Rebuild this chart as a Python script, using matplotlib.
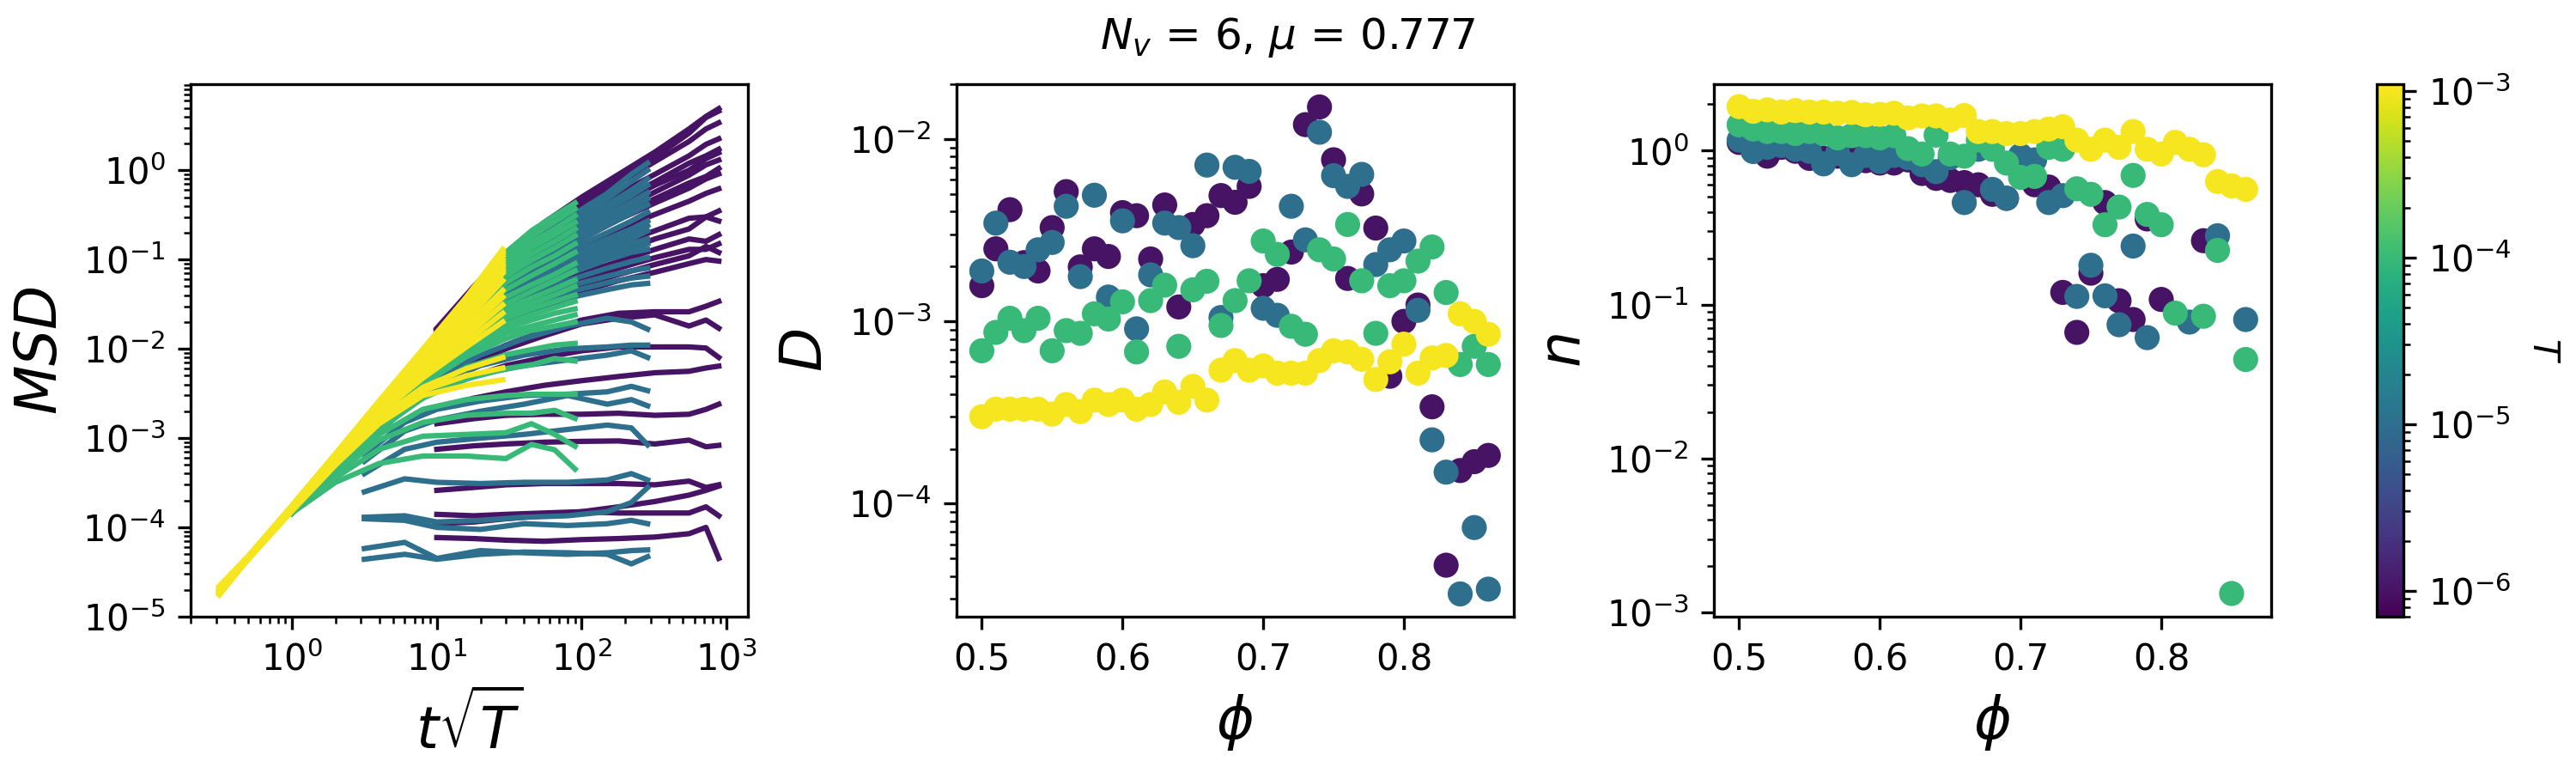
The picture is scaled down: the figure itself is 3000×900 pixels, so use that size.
import numpy as np
import matplotlib
matplotlib.use('Agg')
import matplotlib.pyplot as plt
from matplotlib.colors import LogNorm
from matplotlib.cm import ScalarMappable

# temperatures (one colour each)
T_vals = [1e-6, 1e-5, 1e-4, 1e-3]

# packing fractions
phi = [0.50, 0.51, 0.52, 0.53, 0.54, 0.55, 0.56, 0.57, 0.58, 0.59,
       0.60, 0.61, 0.62, 0.63, 0.64, 0.65, 0.66, 0.67, 0.68, 0.69,
       0.70, 0.71, 0.72, 0.73, 0.74, 0.75, 0.76, 0.77, 0.78, 0.79,
       0.80, 0.81, 0.82, 0.83, 0.84, 0.85, 0.86]

nan = float('nan')

# diffusion coefficient D(phi) per temperature
D_1e6 = [1.57e-3, 2.5e-3, 4.1e-3, 2.1e-3, 1.89e-3, 3.27e-3, 5.15e-3, 1.99e-3, 2.5e-3, 2.27e-3,
         3.95e-3, 3.8e-3, 2.2e-3, 4.35e-3, 1.2e-3, 3.4e-3, 3.8e-3, 4.9e-3, 4.5e-3, 5.5e-3,
         1.57e-3, 1.7e-3, 2.4e-3, 1.2e-2, 1.5e-2, 7.7e-3, 1.72e-3, 5.0e-3, 3.25e-3, 5.0e-4,
         1.0e-3, 1.23e-3, 3.4e-4, 4.6e-5, 1.52e-4, 1.7e-4, 1.84e-4]
D_1e5 = [1.89e-3, 3.46e-3, 2.11e-3, 2.0e-3, 2.47e-3, 2.71e-3, 4.28e-3, 1.76e-3, 4.92e-3, 1.36e-3,
         3.56e-3, 9.1e-4, 1.8e-3, 3.46e-3, 3.27e-3, 2.6e-3, 7.2e-3, 1.05e-3, 7.0e-3, 6.65e-3,
         1.18e-3, 1.08e-3, 4.28e-3, 2.8e-3, 1.09e-2, 6.3e-3, 5.5e-3, 6.4e-3, 2.05e-3, 2.47e-3,
         2.76e-3, 1.15e-3, 2.24e-4, 1.49e-4, 3.2e-5, 7.4e-5, 3.4e-5]
D_1e4 = [6.9e-4, 8.7e-4, 1.04e-3, 8.9e-4, 1.04e-3, 6.9e-4, 8.9e-4, 8.6e-4, 1.1e-3, 1.03e-3,
         1.28e-3, 6.8e-4, 1.3e-3, 1.58e-3, 7.3e-4, 1.49e-3, 1.66e-3, 9.5e-4, 1.3e-3, 1.67e-3,
         2.76e-3, 2.33e-3, 9.4e-4, 8.5e-4, 2.47e-3, 2.2e-3, 3.4e-3, 1.67e-3, 8.6e-4, 1.57e-3,
         1.67e-3, 2.14e-3, 2.56e-3, 1.44e-3, 5.8e-4, 7.3e-4, 5.8e-4]
D_1e3 = [3.0e-4, 3.3e-4, 3.3e-4, 3.3e-4, 3.3e-4, 3.1e-4, 3.5e-4, 3.2e-4, 3.7e-4, 3.5e-4,
         3.7e-4, 3.3e-4, 3.5e-4, 4.1e-4, 3.6e-4, 4.4e-4, 3.7e-4, 5.4e-4, 6.1e-4, 5.4e-4,
         5.7e-4, 5.2e-4, 5.2e-4, 5.2e-4, 6.1e-4, 6.9e-4, 6.8e-4, 6.2e-4, 4.8e-4, 6.0e-4,
         7.5e-4, 5.2e-4, 6.3e-4, 6.5e-4, 1.1e-3, 1.0e-3, 8.5e-4]

# exponent n(phi) per temperature
n_1e6 = [1.13, 0.99, 0.92, 1.05, 0.99, 0.89, 0.89, 0.92, 0.89, 0.86,
         0.83, 0.83, 0.87, 0.71, 0.66, 0.64, 0.62, 0.60, 0.52, 0.49,
         0.71, 0.60, 0.58, 0.12, 0.066, 0.16, 0.46, 0.106, 0.080, 0.36,
         0.108, nan, nan, 0.26, nan, nan, nan]
n_1e5 = [1.17, 0.99, 1.05, 1.08, 1.02, 0.99, 0.82, 0.96, 0.81, 0.93,
         0.85, 0.93, 0.90, 0.81, 0.73, 0.90, 0.46, 1.02, 0.56, 0.49,
         0.93, 0.87, 0.46, 0.51, 0.113, 0.18, 0.114, 0.074, 0.24, 0.061,
         nan, nan, 0.077, nan, 0.28, nan, 0.080]
n_1e4 = [1.47, 1.38, 1.33, 1.33, 1.29, 1.33, 1.29, 1.21, 1.25, 1.25,
         1.21, 1.25, 1.03, 0.95, 1.26, 0.95, 0.92, 1.17, 1.02, 0.83,
         0.67, 0.68, 1.05, 1.02, 0.565, 0.52, 0.33, 0.43, 0.69, 0.385,
         0.33, 0.088, nan, 0.084, 0.225, 1.33e-3, 0.044]
n_1e3 = [1.93, 1.80, 1.84, 1.78, 1.82, 1.78, 1.78, 1.75, 1.77, 1.71,
         1.72, 1.75, 1.63, 1.68, 1.68, 1.58, 1.69, 1.33, 1.33, 1.29,
         1.29, 1.33, 1.38, 1.43, 1.17, 1.02, 1.17, 1.05, 1.33, 1.02,
         0.95, 1.13, 1.02, 0.94, 0.63, 0.59, 0.56]

# MSD curves, read at a handful of t*sqrt(T) positions per temperature
msd_x_1e3 = [0.316, 0.5, 1.0, 2.0, 4.0, 8.0, 16.0, 28.5]
msd_y_1e3 = [
    [2.2e-5, 4.8e-5, 1.75e-4, 6.7e-4, 2.6e-3, 0.0099, 0.038, 0.13],
    [1.8e-5, 4.6e-5, 1.74e-4, 6.65e-4, 2.58e-3, 0.0097, 0.036, 0.122],
    [2.0e-5, 4.7e-5, 1.75e-4, 6.6e-4, 2.55e-3, 0.0094, 0.034, 0.115],
    [1.9e-5, 4.6e-5, 1.73e-4, 6.55e-4, 2.52e-3, 0.0091, 0.0325, 0.108],
    [2.1e-5, 4.7e-5, 1.72e-4, 6.5e-4, 2.5e-3, 0.0089, 0.031, 0.10],
    [1.75e-5, 4.5e-5, 1.71e-4, 6.45e-4, 2.45e-3, 0.0086, 0.0295, 0.094],
    [2.0e-5, 4.6e-5, 1.7e-4, 6.4e-4, 2.4e-3, 0.0084, 0.028, 0.088],
    [1.9e-5, 4.6e-5, 1.7e-4, 6.35e-4, 2.38e-3, 0.0082, 0.027, 0.083],
    [2.2e-5, 4.7e-5, 1.7e-4, 6.3e-4, 2.35e-3, 0.0080, 0.026, 0.078],
    [1.8e-5, 4.5e-5, 1.69e-4, 6.25e-4, 2.32e-3, 0.0078, 0.025, 0.074],
    [1.9e-5, 4.6e-5, 1.68e-4, 6.2e-4, 2.3e-3, 0.0076, 0.024, 0.070],
    [2.0e-5, 4.6e-5, 1.67e-4, 6.1e-4, 2.22e-3, 0.0070, 0.021, 0.058],
    [1.85e-5, 4.6e-5, 1.66e-4, 6.0e-4, 2.15e-3, 0.0064, 0.018, 0.045],
    [2.1e-5, 4.5e-5, 1.64e-4, 5.9e-4, 2.08e-3, 0.0059, 0.016, 0.038],
    [1.8e-5, 4.5e-5, 1.63e-4, 5.8e-4, 2.0e-3, 0.0055, 0.014, 0.031],
    [1.9e-5, 4.5e-5, 1.62e-4, 5.7e-4, 1.92e-3, 0.0051, 0.012, 0.025],
    [2.0e-5, 4.5e-5, 1.6e-4, 5.6e-4, 1.85e-3, 0.0047, 0.0105, 0.020],
    [1.9e-5, 4.5e-5, 1.58e-4, 5.4e-4, 1.65e-3, 3.7e-3, 6.0e-3, 8.0e-3],
    [1.8e-5, 4.4e-5, 1.55e-4, 5.2e-4, 1.55e-3, 3.4e-3, 5.0e-3, 6.1e-3],
    [1.9e-5, 4.4e-5, 1.52e-4, 5.0e-4, 1.45e-3, 3.0e-3, 3.9e-3, 4.5e-3],
]

msd_x_1e4 = [1.0, 2.0, 4.0, 8.0, 16.0, 30.0, 45.0, 65.0, 90.0]
msd_y_1e4 = [
    [1.45e-4, 5.8e-4, 2.3e-3, 9.0e-3, 0.035, 0.12, 0.21, 0.31, 0.43],
    [1.45e-4, 5.75e-4, 2.25e-3, 8.7e-3, 0.032, 0.108, 0.18, 0.265, 0.37],
    [1.45e-4, 5.7e-4, 2.2e-3, 8.4e-3, 0.030, 0.095, 0.155, 0.22, 0.31],
    [1.45e-4, 5.65e-4, 2.15e-3, 8.1e-3, 0.028, 0.085, 0.135, 0.19, 0.26],
    [1.45e-4, 5.6e-4, 2.1e-3, 7.8e-3, 0.026, 0.075, 0.115, 0.16, 0.22],
    [1.45e-4, 5.55e-4, 2.05e-3, 7.4e-3, 0.023, 0.065, 0.098, 0.135, 0.185],
    [1.45e-4, 5.5e-4, 2.0e-3, 7.0e-3, 0.021, 0.055, 0.082, 0.11, 0.15],
    [1.45e-4, 5.45e-4, 1.95e-3, 6.6e-3, 0.019, 0.046, 0.066, 0.09, 0.12],
    [1.45e-4, 5.4e-4, 1.9e-3, 6.2e-3, 0.017, 0.038, 0.052, 0.068, 0.090],
    [1.45e-4, 5.35e-4, 1.85e-3, 5.8e-3, 0.0155, 0.032, 0.044, 0.058, 0.075],
    [1.45e-4, 5.3e-4, 1.8e-3, 5.5e-3, 0.014, 0.028, 0.037, 0.047, 0.059],
    [1.45e-4, 5.25e-4, 1.75e-3, 5.2e-3, 0.013, 0.025, 0.032, 0.040, 0.050],
    [1.45e-4, 5.2e-4, 1.7e-3, 5.0e-3, 0.012, 0.022, 0.028, 0.034, 0.040],
    [1.45e-4, 5.15e-4, 1.65e-3, 4.7e-3, 0.011, 0.019, 0.024, 0.029, 0.034],
    [1.45e-4, 5.1e-4, 1.6e-3, 4.5e-3, 0.0098, 0.017, 0.021, 0.025, 0.028],
    [1.45e-4, 5.05e-4, 1.55e-3, 4.2e-3, 0.009, 0.015, 0.018, 0.021, 0.024],
    [1.45e-4, 5.0e-4, 1.5e-3, 4.0e-3, 8.2e-3, 0.013, 0.016, 0.018, 0.020],
    [1.45e-4, 4.8e-4, 1.4e-3, 3.4e-3, 6.2e-3, 8.6e-3, 9.8e-3, 0.011, 0.0115],
    [1.45e-4, 4.6e-4, 1.25e-3, 2.8e-3, 4.6e-3, 6.0e-3, 6.6e-3, 7.8e-3, 7.3e-3],
    [1.45e-4, 4.3e-4, 1.1e-3, 2.1e-3, 2.7e-3, 3.0e-3, 3.1e-3, 3.1e-3, 3.1e-3],
    [1.45e-4, 4.0e-4, 9.5e-4, 1.5e-3, 1.8e-3, 1.9e-3, 1.9e-3, 2.05e-3, 1.66e-3],
    [1.45e-4, 3.6e-4, 7.5e-4, 1.05e-3, 1.1e-3, 1.15e-3, 1.45e-3, 1.1e-3, 8.1e-4],
    [1.45e-4, 3.2e-4, 5.2e-4, 6.3e-4, 6.3e-4, 5.9e-4, 8.5e-4, 7.4e-4, 4.5e-4],
]

msd_x_1e5 = [3.16, 6.0, 10.0, 20.0, 40.0, 80.0, 150.0, 220.0, 285.0]
msd_y_1e5 = [
    [1.6e-3, 5.5e-3, 0.014, 0.048, 0.13, 0.29, 0.55, 0.90, 1.2],
    [1.58e-3, 5.4e-3, 0.0135, 0.045, 0.12, 0.26, 0.48, 0.75, 1.0],
    [1.55e-3, 5.2e-3, 0.013, 0.042, 0.11, 0.23, 0.41, 0.60, 0.80],
    [1.52e-3, 5.1e-3, 0.0125, 0.039, 0.10, 0.20, 0.36, 0.52, 0.68],
    [1.5e-3, 5.0e-3, 0.012, 0.036, 0.090, 0.18, 0.31, 0.44, 0.56],
    [1.48e-3, 4.85e-3, 0.0115, 0.034, 0.082, 0.16, 0.27, 0.38, 0.48],
    [1.45e-3, 4.7e-3, 0.011, 0.031, 0.075, 0.14, 0.24, 0.33, 0.41],
    [1.42e-3, 4.55e-3, 0.0105, 0.029, 0.067, 0.125, 0.20, 0.27, 0.34],
    [1.4e-3, 4.4e-3, 0.010, 0.027, 0.060, 0.11, 0.17, 0.22, 0.27],
    [1.37e-3, 4.3e-3, 9.8e-3, 0.025, 0.055, 0.10, 0.15, 0.195, 0.24],
    [1.35e-3, 4.2e-3, 9.5e-3, 0.024, 0.050, 0.090, 0.135, 0.17, 0.21],
    [1.3e-3, 4.0e-3, 9.0e-3, 0.022, 0.045, 0.080, 0.12, 0.15, 0.17],
    [1.28e-3, 3.9e-3, 8.8e-3, 0.021, 0.042, 0.073, 0.11, 0.13, 0.15],
    [1.25e-3, 3.8e-3, 8.5e-3, 0.020, 0.040, 0.068, 0.10, 0.12, 0.13],
    [1.22e-3, 3.65e-3, 8.0e-3, 0.018, 0.036, 0.058, 0.080, 0.095, 0.105],
    [1.2e-3, 3.5e-3, 7.5e-3, 0.017, 0.032, 0.050, 0.065, 0.075, 0.080],
    [1.15e-3, 3.35e-3, 7.0e-3, 0.0155, 0.028, 0.043, 0.055, 0.062, 0.065],
    [1.1e-3, 3.2e-3, 6.5e-3, 0.014, 0.025, 0.037, 0.046, 0.052, 0.054],
    [9.5e-4, 2.6e-3, 4.8e-3, 8.5e-3, 0.013, 0.018, 0.022, 0.020, 0.0166],
    [9.0e-4, 2.3e-3, 4.0e-3, 6.5e-3, 8.5e-3, 0.010, 0.0105, 0.011, 0.011],
    [8.5e-4, 2.1e-3, 3.5e-3, 5.2e-3, 6.5e-3, 7.5e-3, 8.5e-3, 9.5e-3, 8.0e-3],
    [6.5e-4, 1.5e-3, 2.1e-3, 2.6e-3, 3.0e-3, 3.1e-3, 3.3e-3, 3.8e-3, 3.4e-3],
    [5.5e-4, 1.2e-3, 1.6e-3, 2.0e-3, 2.4e-3, 3.0e-3, 2.4e-3, 2.7e-3, 2.3e-3],
    [4.0e-4, 7.5e-4, 9.0e-4, 1.0e-3, 1.1e-3, 1.25e-3, 1.4e-3, 1.3e-3, 8.4e-4],
    [2.5e-4, 3.5e-4, 3.2e-4, 3.1e-4, 3.2e-4, 3.2e-4, 3.4e-4, 4.0e-4, 3.4e-4],
    [1.3e-4, 1.35e-4, 1.15e-4, 1.2e-4, 1.3e-4, 1.35e-4, 1.5e-4, 1.9e-4, 2.8e-4],
    [1.25e-4, 1.2e-4, 1.0e-4, 9.5e-5, 1.1e-4, 1.05e-4, 1.1e-4, 1.2e-4, 1.1e-4],
    [5.8e-5, 6.8e-5, 4.5e-5, 5.5e-5, 5.2e-5, 5.0e-5, 5.2e-5, 5.5e-5, 5.6e-5],
    [4.4e-5, 5.0e-5, 4.4e-5, 5.0e-5, 5.3e-5, 5.2e-5, 5.0e-5, 3.9e-5, 4.7e-5],
]

msd_x_1e6 = [10.0, 18.0, 30.0, 55.0, 100.0, 180.0, 320.0, 550.0, 720.0, 883.0]
msd_y_1e6 = [
    [0.017, 0.050, 0.12, 0.26, 0.50, 0.90, 1.6, 2.9, 4.0, 4.9],
    [0.0165, 0.048, 0.11, 0.235, 0.45, 0.80, 1.4, 2.6, 3.9, 4.6],
    [0.016, 0.045, 0.10, 0.21, 0.40, 0.72, 1.25, 2.1, 2.9, 3.4],
    [0.015, 0.040, 0.085, 0.17, 0.32, 0.55, 0.90, 1.45, 1.95, 2.25],
    [0.014, 0.036, 0.075, 0.145, 0.27, 0.45, 0.74, 1.2, 1.45, 1.72],
    [0.014, 0.035, 0.072, 0.14, 0.25, 0.42, 0.68, 1.0, 1.35, 1.57],
    [0.0135, 0.033, 0.066, 0.125, 0.22, 0.36, 0.57, 0.88, 1.15, 1.3],
    [0.013, 0.031, 0.060, 0.11, 0.19, 0.31, 0.48, 0.72, 0.85, 1.05],
    [0.012, 0.029, 0.056, 0.10, 0.17, 0.28, 0.43, 0.63, 0.80, 0.91],
    [0.011, 0.026, 0.048, 0.085, 0.14, 0.22, 0.32, 0.45, 0.55, 0.62],
    [0.010, 0.022, 0.040, 0.066, 0.10, 0.15, 0.21, 0.29, 0.30, 0.35],
    [0.0095, 0.020, 0.035, 0.057, 0.085, 0.12, 0.17, 0.22, 0.30, 0.27],
    [0.009, 0.018, 0.031, 0.048, 0.070, 0.095, 0.13, 0.17, 0.16, 0.19],
    [0.0085, 0.017, 0.028, 0.042, 0.060, 0.080, 0.105, 0.13, 0.13, 0.15],
    [0.008, 0.016, 0.025, 0.037, 0.052, 0.068, 0.088, 0.11, 0.14, 0.12],
    [0.0075, 0.014, 0.022, 0.032, 0.044, 0.058, 0.072, 0.090, 0.10, 0.096],
    [4.5e-3, 7.5e-3, 0.011, 0.016, 0.021, 0.025, 0.026, 0.026, 0.030, 0.034],
    [4.2e-3, 7.0e-3, 0.010, 0.014, 0.019, 0.022, 0.024, 0.018, 0.021, 0.017],
    [3.5e-3, 5.0e-3, 6.5e-3, 8.0e-3, 9.5e-3, 0.0105, 0.0105, 0.0105, 0.0102, 8.0e-3],
    [2.2e-3, 2.8e-3, 3.3e-3, 3.9e-3, 4.4e-3, 4.9e-3, 5.4e-3, 5.6e-3, 6.1e-3, 6.4e-3],
    [1.45e-3, 1.65e-3, 1.8e-3, 1.85e-3, 1.85e-3, 1.9e-3, 1.8e-3, 1.85e-3, 2.1e-3, 2.4e-3],
    [7.5e-4, 8.2e-4, 8.6e-4, 9.0e-4, 9.2e-4, 9.3e-4, 8.6e-4, 9.5e-4, 8.0e-4, 8.3e-4],
    [2.6e-4, 2.8e-4, 3.0e-4, 3.1e-4, 3.1e-4, 3.1e-4, 3.0e-4, 3.3e-4, 2.8e-4, 3.0e-4],
    [1.1e-4, 1.15e-4, 1.25e-4, 1.35e-4, 1.5e-4, 1.7e-4, 1.95e-4, 2.3e-4, 2.6e-4, 2.9e-4],
    [1.4e-4, 1.35e-4, 1.4e-4, 1.45e-4, 1.5e-4, 1.45e-4, 1.45e-4, 1.45e-4, 1.7e-4, 1.35e-4],
    [7.7e-5, 7.5e-5, 7.2e-5, 7.0e-5, 7.3e-5, 7.5e-5, 7.8e-5, 8.5e-5, 1.0e-4, 4.5e-5],
]

msd_x = [msd_x_1e6, msd_x_1e5, msd_x_1e4, msd_x_1e3]
msd_y = [msd_y_1e6, msd_y_1e5, msd_y_1e4, msd_y_1e3]
D_all = [D_1e6, D_1e5, D_1e4, D_1e3]
n_all = [n_1e6, n_1e5, n_1e4, n_1e3]

norm = LogNorm(vmin=7.0e-7, vmax=1.1e-3)
cmap = plt.get_cmap('viridis')

fig = plt.figure(figsize=(10, 3), dpi=300)
ax1 = fig.add_axes([0.074, 0.2022, 0.2163, 0.6889])
ax2 = fig.add_axes([0.3713, 0.2022, 0.2163, 0.6889])
ax3 = fig.add_axes([0.6653, 0.2022, 0.2163, 0.6889])
cax = fig.add_axes([0.9227, 0.2022, 0.0103, 0.6889])

# MSD vs rescaled time
for T, xs, curves in zip(T_vals, msd_x, msd_y):
    for ys in curves:
        ax1.plot(xs, ys, color=cmap(norm(T)), lw=1.5)
ax1.set_xscale('log')
ax1.set_yscale('log')
ax1.set_xlim(0.2, 1400)
ax1.set_ylim(1e-5, 9.2)
ax1.set_xlabel(r'$t\sqrt{T}$', fontsize=16)
ax1.set_ylabel(r'$MSD$', fontsize=16)

# D and n vs phi
for T, D, n in zip(T_vals, D_all, n_all):
    col = [cmap(norm(T))] * len(phi)
    ax2.scatter(phi, D, c=col)
    ax3.scatter(phi, n, c=col)

ax2.set_yscale('log')
ax2.set_xlim(0.482, 0.878)
ax2.set_ylim(2.4e-5, 2.0e-2)
ax2.set_xlabel(r'$\phi$', fontsize=16)
ax2.set_ylabel(r'$D$', fontsize=16)

ax3.set_yscale('log')
ax3.set_xlim(0.482, 0.878)
ax3.set_ylim(9.4e-4, 2.7)
ax3.set_xlabel(r'$\phi$', fontsize=16)
ax3.set_ylabel(r'$n$', fontsize=16)

sm = ScalarMappable(norm=norm, cmap=cmap)
cbar = fig.colorbar(sm, cax=cax)
cbar.set_label(r'$T$', rotation=270, labelpad=14)

fig.suptitle(r'$N_v$ = 6, $\mu$ = 0.777')

fig.savefig('out.png', dpi=300)
